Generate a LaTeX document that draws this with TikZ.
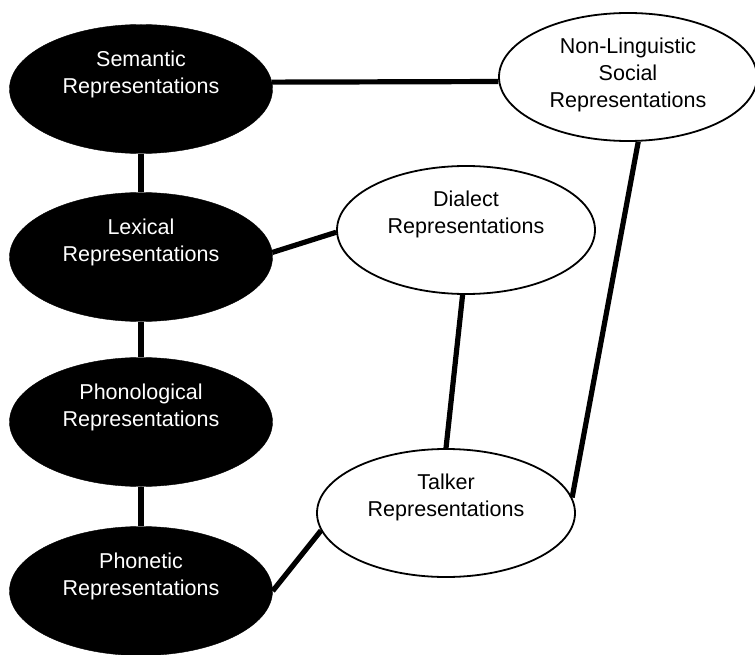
\documentclass[tikz,border=0pt]{standalone}
\usepackage{fontspec}
\setmainfont{Liberation Sans}
\usetikzlibrary{shapes.geometric}

\begin{document}
\begin{tikzpicture}[x=1pt,y=-1pt,
  rep_blk/.style={ellipse,draw=black,fill=black,minimum width=263pt,minimum height=129pt,inner sep=0pt},
  rep_wht/.style={ellipse,draw=black,line width=1.8pt,fill=white,minimum width=258pt,minimum height=128pt,inner sep=0pt},
  rep_txt/.style={anchor=north,yshift=-26pt,inner sep=0pt,align=center,font=\fontsize{21.5pt}{27pt}\selectfont},
  link/.style={line width=5.2pt}]
\useasboundingbox (0,0) rectangle (755,655);
% linguistic levels (left column)
\node[rep_blk,label={[rep_txt,text=white]north:{Semantic\\Representations}}] (sem) at (141,89) {};
\node[rep_blk,label={[rep_txt,text=white]north:{Lexical\\Representations}}] (lex) at (141,257) {};
\node[rep_blk,label={[rep_txt,text=white]north:{Phonological\\Representations}}] (phl) at (141,422) {};
\node[rep_blk,label={[rep_txt,text=white]north:{Phonetic\\Representations}}] (pht) at (141,591) {};
% social / indexical side
\node[rep_wht,label={[rep_txt]north:{Non-Linguistic\\Social\\Representations}}] (soc) at (628,77) {};
\node[rep_wht,label={[rep_txt]north:{Dialect\\Representations}}] (dia) at (466,230) {};
\node[rep_wht,label={[rep_txt]north:{Talker\\Representations}}] (tlk) at (446,513) {};
% connections
\draw[link] (sem.south)--(lex.north);
\draw[link] (lex.south)--(phl.north);
\draw[link] (phl.south)--(pht.north);
\draw[link] (sem.3)--(soc.182);
\draw[link] (lex.2)--(dia.181);
\draw[link] (dia.-93)--(tlk.north);
\draw[link] (soc.-81)--(tlk.7);
\draw[link] (tlk.188)--(pht.east);
\end{tikzpicture}
\end{document}
